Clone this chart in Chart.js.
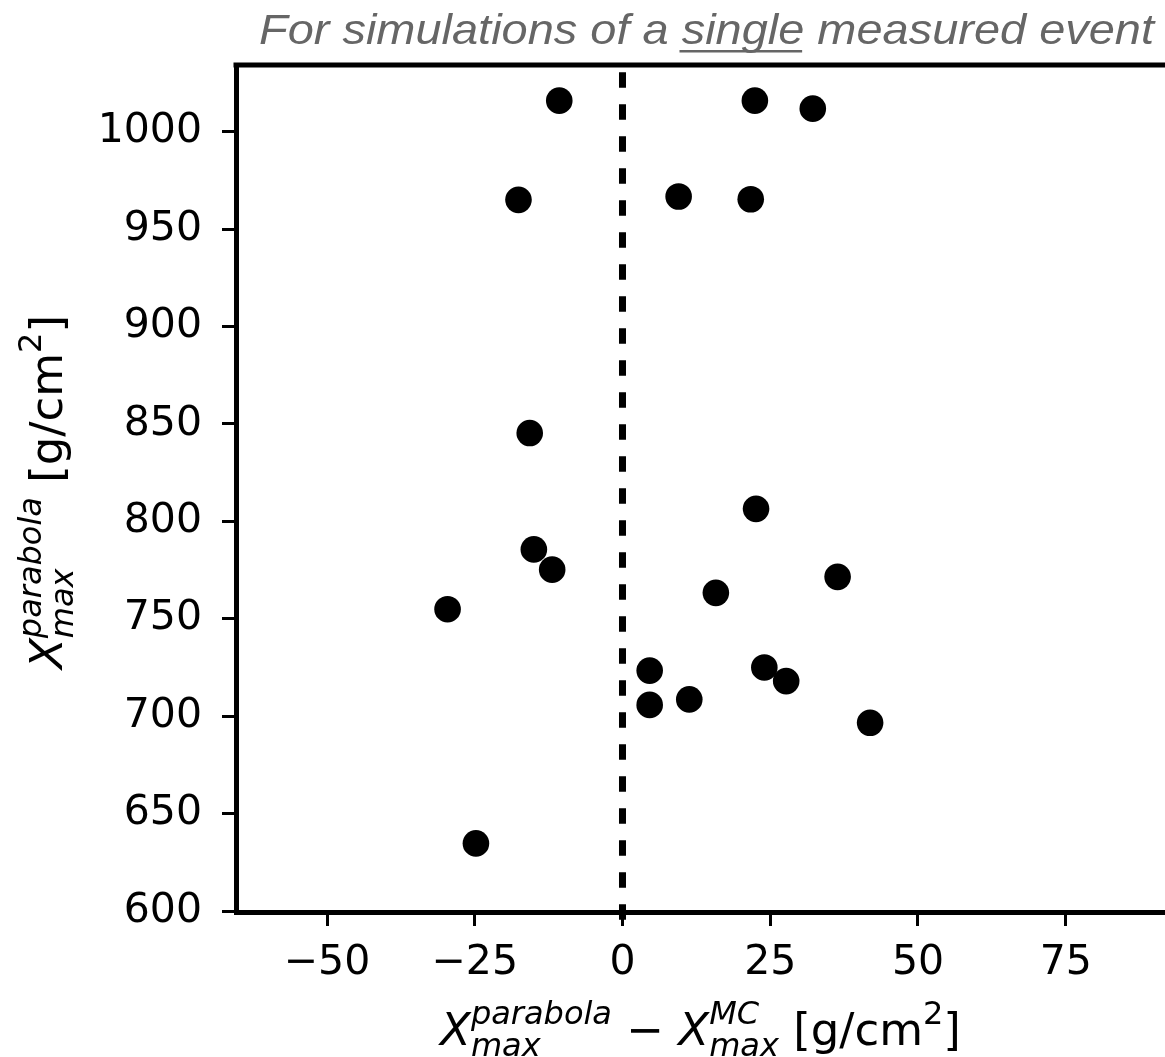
<!DOCTYPE html>
<html>
<head>
<meta charset="utf-8">
<script src="https://cdn.jsdelivr.net/npm/chart.js@4"></script>
<style>
html, body { margin: 0; padding: 0; background: #fff; }
#wrap { width: 1165px; height: 1057px; }
</style>
</head>
<body>
<div id="wrap"><canvas id="myChart" width="1165" height="1057"></canvas></div>
<script>
// X_max(parabola) - X_max(MC) vs X_max(parabola), one point per simulation
const xmaxDiff = [-10.7, 22.4, 32.2, -17.6, 9.5, 21.7, -15.7, 22.6, -15.0, -11.9,
	36.4, -29.6, 15.8, 4.6, 4.6, 11.3, 24.0, 27.7, 41.9, -24.8];
const xmaxParabola = [1015.9, 1015.9, 1011.8, 965.0, 966.7, 965.3, 845.3, 806.4, 785.6, 775.2,
	771.5, 754.9, 763.3, 723.4, 705.8, 708.6, 725.0, 718.0, 696.6, 634.7];

const xTicks = [-50, -25, 0, 25, 50, 75];
const yTicks = [600, 650, 700, 750, 800, 850, 900, 950, 1000];
const xRange = [-65.4, 91.8];
const yRange = [599.5, 1034.2];
// dashed reference line at zero difference
const zeroLineX = [0, 0];
const zeroLineY = [595.5, 1034.2];

const titleText = ["For simulations of a ", "single", " measured event"];

// axis titles as mathtext-like pieces
const xTitleParts = [
	{t: "X", it: true}, {sup: "parabola", sub: "max"}, {t: " \u2212 "},
	{t: "X", it: true}, {sup: "MC", sub: "max"}, {t: " [g/cm"}, {sup: "2", it: false}, {t: "]"}
];
const yTitleParts = [
	{t: "X", it: true}, {sup: "parabola", sub: "max"}, {t: " [g/cm"}, {sup: "2", it: false}, {t: "]"}
];

const MAIN = 45, SCRIPT = 32, SUP = 21, SUB = 11;

function fontOf(size, italic) {
	return (italic ? "italic " : "") + size + "px 'DejaVu Sans'";
}

function layoutRich(ctx, parts) {
	let x = 0;
	const items = [];
	for (const p of parts) {
		if (p.t !== undefined) {
			const font = fontOf(MAIN, p.it);
			ctx.font = font;
			items.push({t: p.t, font, x, dy: 0});
			x += ctx.measureText(p.t).width;
		} else {
			let w = 0;
			const font = fontOf(SCRIPT, p.it !== false);
			ctx.font = font;
			if (p.sup) {
				items.push({t: p.sup, font, x, dy: -SUP});
				w = Math.max(w, ctx.measureText(p.sup).width);
			}
			if (p.sub) {
				items.push({t: p.sub, font, x, dy: SUB});
				w = Math.max(w, ctx.measureText(p.sub).width);
			}
			x += w;
		}
	}
	return {items, width: x};
}

function drawRich(ctx, parts, cx, baseline) {
	const {items, width} = layoutRich(ctx, parts);
	ctx.textAlign = "left";
	ctx.textBaseline = "alphabetic";
	for (const it of items) {
		ctx.font = it.font;
		ctx.fillText(it.t, cx - width / 2 + it.x, baseline + it.dy);
	}
}

const labelsPlugin = {
	id: "labels",
	afterDraw(chart) {
		const {ctx, chartArea: a} = chart;
		ctx.save();

		// top frame line
		ctx.strokeStyle = "#000";
		ctx.lineWidth = 5;
		ctx.beginPath();
		ctx.moveTo(a.left - 2.5, a.top);
		ctx.lineTo(a.right, a.top);
		ctx.stroke();

		// title with underlined word
		ctx.font = "italic 43px 'Liberation Sans'";
		ctx.fillStyle = "#666";
		ctx.textAlign = "left";
		ctx.textBaseline = "alphabetic";
		const full = titleText.join("");
		const fit = 895 / ctx.measureText(full).width;
		ctx.save();
		ctx.translate(259, 44);
		ctx.scale(fit, 1);
		ctx.fillText(full, 0, 0);
		const u0 = ctx.measureText(titleText[0]).width;
		const uw = ctx.measureText(titleText[1]).width;
		ctx.fillRect(u0 - 2, 6, uw, 2.5);
		ctx.restore();

		// axis titles
		ctx.fillStyle = "#000";
		drawRich(ctx, xTitleParts, (a.left + a.right) / 2, 1045);
		ctx.save();
		ctx.translate(62, 492);
		ctx.rotate(-Math.PI / 2);
		drawRich(ctx, yTitleParts, 0, 0);
		ctx.restore();

		ctx.restore();
	}
};

const tickFont = {family: "'DejaVu Sans'", size: 41};
const minus = v => String(v).replace("-", "\u2212");

const ctx = document.getElementById("myChart").getContext("2d");
const myChart = new Chart(ctx, {
	type: "scatter",
	data: {
		datasets: [{
			type: "line",
			data: zeroLineX.map((x, i) => ({x, y: zeroLineY[i]})),
			borderColor: "#000",
			borderWidth: 7,
			borderDash: [15.5, 16.5],
			pointRadius: 0,
			clip: false,
			order: 2
		}, {
			type: "scatter",
			data: xmaxDiff.map((x, i) => ({x, y: xmaxParabola[i]})),
			backgroundColor: "#000",
			borderWidth: 0,
			pointRadius: 13.3,
			order: 1
		}]
	},
	options: {
		responsive: false,
		animation: false,
		devicePixelRatio: 1,
		layout: {autoPadding: false, padding: {top: 65, left: 0, right: 0, bottom: 0}},
		plugins: {
			legend: {display: false},
			tooltip: {enabled: false}
		},
		scales: {
			x: {
				type: "linear",
				min: xRange[0],
				max: xRange[1],
				afterBuildTicks: s => { s.ticks = xTicks.map(value => ({value})); },
				afterFit: s => { s.height = 145; s.paddingLeft = 0; s.paddingRight = 0; },
				grid: {drawOnChartArea: false, tickLength: 14, lineWidth: 3, color: "#000"},
				border: {color: "#000", width: 5},
				ticks: {font: tickFont, color: "#000", padding: 13, maxRotation: 0, autoSkip: false, callback: minus}
			},
			y: {
				type: "linear",
				min: yRange[0],
				max: yRange[1],
				afterBuildTicks: s => { s.ticks = yTicks.map(value => ({value})); },
				afterFit: s => { s.width = 236; s.paddingTop = 0; s.paddingBottom = 0; },
				grid: {drawOnChartArea: false, tickLength: 14, lineWidth: 3, color: "#000"},
				border: {color: "#000", width: 5},
				ticks: {font: tickFont, color: "#000", padding: 20, autoSkip: false, callback: minus}
			}
		}
	},
	plugins: [labelsPlugin]
});
</script>
</body>
</html>
